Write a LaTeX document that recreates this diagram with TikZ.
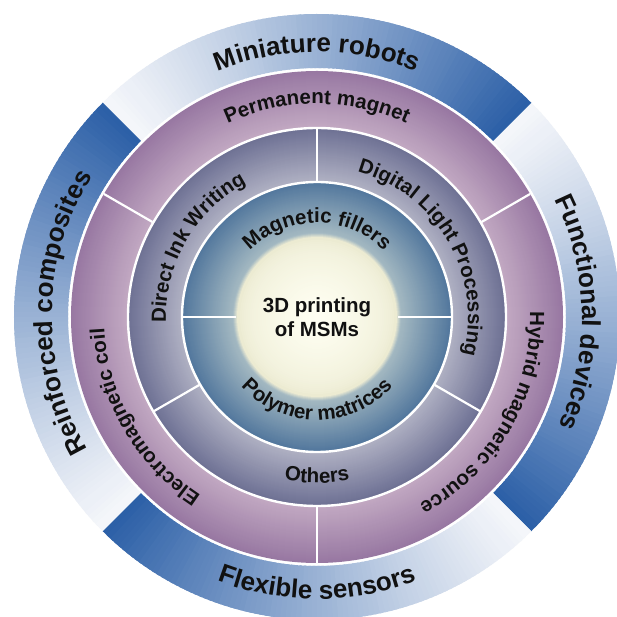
\documentclass[tikz,border=0pt]{standalone}
\usepackage{fontspec}
\setmainfont{Liberation Sans}
\usetikzlibrary{decorations.text}

% palette
\definecolor{ringdark}{HTML}{2A5EA6}
\definecolor{ringlight}{HTML}{F4F6FA}
\definecolor{plumout}{HTML}{9878A2}
\definecolor{plumin}{HTML}{C3AAC3}
\definecolor{slateout}{HTML}{6E7194}
\definecolor{slatein}{HTML}{B1B2C4}
\definecolor{steelout}{HTML}{52779D}
\definecolor{steelin}{HTML}{A9BDC4}
\definecolor{creamedge}{HTML}{ECEBD2}
\definecolor{creammid}{HTML}{FFFFF3}
\definecolor{inkblack}{HTML}{111111}

% label fonts
\newcommand{\lblOuter}{\fontsize{26}{30}\selectfont\bfseries}
\newcommand{\lblInner}{\fontsize{20.5}{24}\selectfont\bfseries}

% text set along an arc centred on angle #1, baseline radius #2, half span #3
\newcommand{\cwlabel}[4]{%
  \path[arclabel={#4}]
    ({#1+#3}:#2) arc[start angle={#1+#3}, end angle={#1-#3}, radius=#2];}
\newcommand{\ccwlabel}[4]{%
  \path[arclabel={#4}]
    ({#1-#3}:#2) arc[start angle={#1-#3}, end angle={#1+#3}, radius=#2];}

\tikzset{
  arclabel/.style={decorate, decoration={text along path, text align=center,
      text color=inkblack, text={#1}}},
  divider/.style={draw=white, line width=2.2pt},
  seam/.style={draw=white, line width=2.4pt},
}

\begin{document}
\begin{tikzpicture}[x=1pt, y=1pt]
  \useasboundingbox (-317,-300) rectangle (299,317);
  \fill[white] (-317,-300) rectangle (299,317);

  % outer band: four segments, each shading from light to dark clockwise
  \foreach \d in {-45,45,135,225}{
    \foreach \i in {0,...,89}{
      \pgfmathsetmacro{\aa}{\d+\i}
      \pgfmathsetmacro{\bb}{min(\d+\i+1.6,\d+90)}
      \pgfmathtruncatemacro{\pp}{100*((89.5-\i)/90)^1.15}
      \fill[ringdark!\pp!ringlight]
        (\aa:249) arc[start angle=\aa, end angle=\bb, radius=249]
        -- (\bb:303) arc[start angle=\bb, end angle=\aa, radius=303] -- cycle;
    }
  }

  % plum ring
  \foreach \i in {0,...,57}{
    \pgfmathsetmacro{\rr}{246-\i}
    \pgfmathtruncatemacro{\pp}{100*\i/57}
    \fill[plumin!\pp!plumout] (0,0) circle (\rr);
  }
  % slate ring
  \foreach \i in {0,...,54}{
    \pgfmathsetmacro{\rr}{189-\i}
    \pgfmathtruncatemacro{\pp}{100*\i/54}
    \fill[slatein!\pp!slateout] (0,0) circle (\rr);
  }
  % steel ring
  \foreach \i in {0,...,54}{
    \pgfmathsetmacro{\rr}{135-\i}
    \pgfmathtruncatemacro{\pp}{100*\i/54}
    \fill[steelin!\pp!steelout] (0,0) circle (\rr);
  }
  % cream core with a soft rim
  \foreach \i in {0,...,4}{
    \pgfmathsetmacro{\rr}{84-\i}
    \pgfmathtruncatemacro{\pp}{25*\i}
    \fill[creamedge!\pp!steelin] (0,0) circle (\rr);
  }
  \foreach \i in {0,...,40}{
    \pgfmathsetmacro{\rr}{79-\i*1.95}
    \pgfmathtruncatemacro{\pp}{100*(\i/40)^0.6}
    \fill[creammid!\pp!creamedge] (0,0) circle (\rr);
  }

  % ring seams
  \draw[seam] (0,0) circle (189);
  \draw[seam] (0,0) circle (135);

  % radial dividers
  \foreach \a in {30,150,270} \draw[divider] (\a:190) -- (\a:246);
  \foreach \a in {90,210,330} \draw[divider] (\a:136) -- (\a:189);
  \foreach \a in {0,180} \draw[divider] (\a:81) -- (\a:135);

  % outer band labels
  \cwlabel{90}{265}{85}{|\lblOuter|Miniature robots}
  \cwlabel{1}{265}{85}{|\lblOuter|Functional devices}
  \cwlabel{179}{265}{85}{|\lblOuter|Reinforced composites}
  \ccwlabel{270}{282}{85}{|\lblOuter|Flexible sensors}

  % plum ring labels
  \cwlabel{90}{213}{85}{|\lblInner|Permanent magnet}
  \cwlabel{210}{213}{85}{|\lblInner|Electromagnetic coil}
  \cwlabel{330}{213}{85}{|\lblInner|Hybrid magnetic source}

  % slate ring labels
  \cwlabel{150}{151}{88}{|\lblInner|Direct Ink Writing}
  \cwlabel{30}{151}{88}{|\lblInner|Digital Light Processing}
  \ccwlabel{270}{166}{85}{|\lblInner|Others}

  % steel ring labels
  \cwlabel{90}{94}{89}{|\lblInner|Magnetic fillers}
  \ccwlabel{270}{103}{89}{|\lblInner|Polymer matrices}

  % core
  \node[align=center, font=\lblInner, text=inkblack] (core) at (0,0)
    {3D printing\\of MSMs};
\end{tikzpicture}
\end{document}
